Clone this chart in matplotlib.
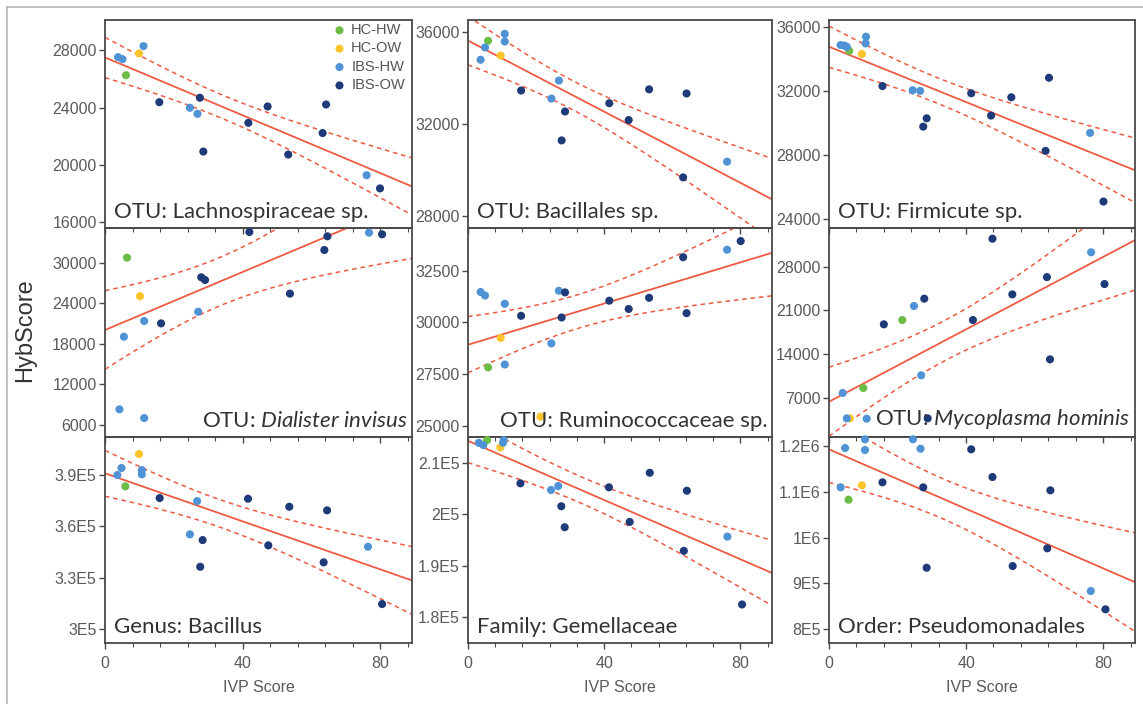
import numpy as np
import matplotlib
matplotlib.use('Agg')
import matplotlib.pyplot as plt
from matplotlib.lines import Line2D

plt.rcParams['font.family'] = ['Liberation Sans', 'DejaVu Sans']
plt.rcParams['mathtext.fontset'] = 'custom'
plt.rcParams['mathtext.rm'] = 'Lato'
plt.rcParams['mathtext.it'] = 'Lato:italic'

groups = ['HC-HW', 'HC-OW', 'IBS-HW', 'IBS-OW']
group_colors = ['#6cbd45', '#fdc42b', '#4f93d6', '#1f3a78']

# panel 1 - Lachnospiraceae
lach_x = [3.8, 5.1, 6.1, 9.9, 11.2, 15.8, 24.7, 26.9, 27.6, 28.6, 41.7, 47.3, 53.3, 63.3, 64.3, 76.1, 80.0]
lach_y = [27510, 27370, 26250, 27770, 28280, 24370, 23980, 23560, 24680, 20930, 22930, 24070, 20720, 22220, 24210, 19280, 18360]
lach_g = [2, 2, 0, 1, 2, 3, 2, 2, 3, 3, 3, 3, 3, 3, 3, 2, 3]

# panel 2 - Bacillales
baci_x = [3.7, 5.0, 5.9, 9.6, 10.8, 10.8, 15.6, 24.5, 26.7, 27.5, 28.5, 41.5, 47.2, 53.2, 63.2, 64.2, 76.1]
baci_y = [34780, 35310, 35600, 34960, 35900, 35570, 33450, 33100, 33880, 31290, 32540, 32900, 32170, 33500, 29690, 33320, 30370]
baci_g = [2, 2, 0, 1, 2, 2, 3, 2, 2, 3, 3, 3, 3, 3, 3, 3, 2]

# panel 3 - Firmicute
firm_x = [3.4, 4.5, 5.2, 5.9, 9.6, 10.8, 10.7, 15.6, 24.4, 26.6, 27.5, 28.5, 41.5, 47.3, 53.2, 64.2, 63.2, 76.2, 80.1]
firm_y = [34860, 34820, 34750, 34500, 34300, 35380, 34960, 32300, 32040, 32000, 29770, 30290, 31850, 30460, 31600, 32820, 28260, 29380, 25100]
firm_g = [2, 2, 2, 0, 1, 2, 2, 3, 2, 2, 3, 3, 3, 3, 3, 3, 3, 2, 3]

# panel 4 - Dialister invisus
dial_x = [6.4, 10.2, 5.5, 11.4, 16.3, 27.1, 28.0, 29.1, 4.2, 11.4, 53.8, 63.8, 64.7, 42.0, 76.8, 80.6]
dial_y = [30740, 25040, 19040, 21360, 21010, 22740, 27840, 27440, 8280, 6990, 25420, 31880, 33910, 34550, 34450, 34200]
dial_g = [0, 1, 2, 2, 3, 2, 3, 3, 2, 2, 3, 3, 3, 3, 2, 3]

# panel 5 - Ruminococcaceae
rumi_x = [3.7, 5.0, 5.9, 9.6, 10.8, 10.8, 15.6, 24.5, 26.7, 28.5, 27.5, 41.5, 47.2, 53.2, 63.2, 64.2, 76.1, 80.1, 21.3]
rumi_y = [31470, 31300, 27830, 29250, 30900, 27970, 30320, 28990, 31530, 31450, 30240, 31050, 30650, 31190, 33150, 30450, 33510, 33930, 25450]
rumi_g = [2, 2, 0, 1, 2, 2, 3, 2, 2, 3, 3, 3, 3, 3, 3, 3, 2, 3, 1]

# panel 6 - Mycoplasma hominis
myco_x = [4.0, 10.0, 16.0, 21.4, 24.8, 27.8, 26.9, 42.0, 47.7, 53.5, 63.6, 64.5, 76.5, 80.4, 5.2, 6.1, 11.0, 28.8]
myco_y = [7800, 8600, 18780, 19470, 21710, 22880, 10630, 19470, 32470, 23570, 26330, 13180, 30290, 25220, 3750, 3750, 3700, 3750]
myco_g = [2, 0, 3, 0, 2, 3, 2, 3, 3, 3, 3, 3, 2, 3, 2, 1, 2, 3]

# panel 7 - Bacillus
bacg_x = [3.6, 4.8, 5.9, 9.9, 10.7, 10.7, 15.9, 24.7, 26.8, 28.4, 27.7, 41.6, 47.5, 53.6, 64.6, 63.6, 76.5, 80.6]
bacg_y = [390000, 394090, 383400, 402250, 392900, 390400, 376580, 355390, 374840, 352060, 336480, 376170, 348970, 371500, 369400, 339050, 348150, 314710]
bacg_g = [2, 2, 0, 1, 2, 2, 3, 2, 2, 3, 3, 3, 3, 3, 3, 3, 2, 3]

# panel 8 - Gemellaceae
geme_x = [3.2, 4.5, 5.6, 9.5, 10.5, 10.3, 15.4, 24.4, 26.5, 27.4, 28.4, 41.4, 47.5, 53.4, 64.3, 63.4, 76.2, 80.5]
geme_y = [213880, 213430, 214400, 212980, 214400, 213880, 206000, 204710, 205480, 201550, 197480, 205230, 198510, 208060, 204570, 192890, 195660, 182480]
geme_g = [2, 2, 0, 1, 2, 2, 3, 2, 2, 3, 3, 3, 3, 3, 3, 3, 2, 3]

# panel 9 - Pseudomonadales
pseu_x = [3.4, 4.7, 5.7, 9.6, 10.5, 10.5, 15.6, 24.5, 26.7, 27.5, 28.5, 41.5, 47.7, 53.6, 63.7, 64.6, 76.4, 80.7]
pseu_y = [1109830, 1195630, 1082750, 1114190, 1191270, 1214630, 1120740, 1214630, 1194100, 1109830, 934280, 1192790, 1132310, 937990, 976640, 1103280, 883410, 843450]
pseu_g = [2, 2, 0, 1, 2, 2, 3, 2, 2, 3, 3, 3, 3, 3, 3, 3, 2, 3]

titles = ['OTU: Lachnospiraceae sp.', 'OTU: Bacillales sp.', 'OTU: Firmicute sp.',
          r'OTU: $\it{Dialister\ invisus}$', 'OTU: Ruminococcaceae sp.', r'OTU: $\it{Mycoplasma\ hominis}$',
          'Genus: Bacillus', 'Family: Gemellaceae', 'Order: Pseudomonadales']
title_right = [False, False, False, True, True, True, False, False, False]

# fitted line (value at IVP 0, slope) and CI half width at left / right edge
fit_icpt = [27490, 35610, 34754, 20030, 28924, 6410, 391000, 214260, 1192800]
fit_slope = [-100.7, -76.9, -86.3, 214.6, 49.7, 289.3, -699.8, -287.4, -3248]
band_left = [1400, 1120, 1300, 5700, 1370, 5300, 13600, 4260, 72900]
band_right = [1990, 1645, 1985, 8730, 2060, 8300, 19435, 6300, 107000]

ylims = [(15600, 30100), (27500, 36500), (23450, 36420),
         (4180, 35140), (24470, 34560), (770, 34180),
         (292000, 412200), (175000, 215000), (770000, 1219700)]
yticks = [[16000, 20000, 24000, 28000], [28000, 32000, 36000], [24000, 28000, 32000, 36000],
          [6000, 12000, 18000, 24000, 30000], [25000, 27500, 30000, 32500], [7000, 14000, 21000, 28000],
          [300000, 330000, 360000, 390000], [180000, 190000, 200000, 210000],
          [800000, 900000, 1000000, 1100000, 1200000]]
ytick_labels = [None, None, None, None, None, None,
                ['3E5', '3.3E5', '3.6E5', '3.9E5'], ['1.8E5', '1.9E5', '2E5', '2.1E5'],
                ['8E5', '9E5', '1E6', '1.1E6', '1.2E6']]

xs_all = [lach_x, baci_x, firm_x, dial_x, rumi_x, myco_x, bacg_x, geme_x, pseu_x]
ys_all = [lach_y, baci_y, firm_y, dial_y, rumi_y, myco_y, bacg_y, geme_y, pseu_y]
gs_all = [lach_g, baci_g, firm_g, dial_g, rumi_g, myco_g, bacg_g, geme_g, pseu_g]

W, H = 1143, 704
fig = plt.figure(figsize=(W / 100, H / 100), dpi=100)

col_left = [105, 468, 829]
col_w = [307, 304, 306]
row_top = [20, 228, 437]
row_h = [208, 209, 206]
XMAX = 89.3
line_col = '#ef5a42'
spine_col = '#4a4a4a'
tick_col = '#5a5a5a'

# outer frame
fig.add_artist(Line2D([7 / W, 7 / W], [0, 1 - 7 / H], color='#b5b5b5', lw=1.2))
fig.add_artist(Line2D([7 / W, 1], [1 - 7 / H, 1 - 7 / H], color='#b5b5b5', lw=1.2))

for i in range(9):
    r, c = divmod(i, 3)
    ax = fig.add_axes([col_left[c] / W, 1 - (row_top[r] + row_h[r]) / H, col_w[c] / W, row_h[r] / H])
    ax.patch.set_alpha(0)
    ax.set_xlim(0, XMAX)
    ax.set_ylim(*ylims[i])
    for sp in ax.spines.values():
        sp.set_color(spine_col)
        sp.set_linewidth(1.3)

    x = np.array(xs_all[i], float)
    y = np.array(ys_all[i], float)
    g = np.array(gs_all[i])

    # regression line and confidence band
    xx = np.linspace(0, XMAX, 200)
    yy = fit_icpt[i] + fit_slope[i] * xx
    n = len(x)
    xm = x.mean()
    sxx = ((x - xm) ** 2).sum()
    shape = lambda v: np.sqrt(1 / n + (v - xm) ** 2 / sxx)
    k = (band_left[i] / shape(0) + band_right[i] / shape(XMAX)) / 2
    hw = k * shape(xx)
    ax.plot(xx, yy, color=line_col, lw=1.3, zorder=2)
    ax.plot(xx, yy + hw, color=line_col, lw=1.1, ls=(0, (3, 2.5)), zorder=2)
    ax.plot(xx, yy - hw, color=line_col, lw=1.1, ls=(0, (3, 2.5)), zorder=2)

    for gi in range(4):
        m = g == gi
        if m.any():
            ax.scatter(x[m], y[m], s=34, color=group_colors[gi], edgecolors='none',
                       zorder=4, clip_on=False, label=groups[gi])

    ax.set_xticks([0, 40, 80])
    ax.set_xticks(np.arange(0, XMAX, 8), minor=True)
    ax.set_yticks(yticks[i])
    if ytick_labels[i] is not None:
        ax.set_yticklabels(ytick_labels[i])
    ax.tick_params(axis='both', which='major', direction='out', length=4, width=1,
                   color=spine_col, labelcolor=tick_col, labelsize=11.5, pad=2)
    ax.tick_params(axis='x', which='major', pad=5)
    ax.tick_params(axis='x', which='minor', direction='out', length=3, width=0.8, color=spine_col)
    if r < 2:
        ax.tick_params(axis='x', which='both', labelbottom=False)
    else:
        ax.set_xlabel('IVP Score', fontsize=11.5, color=tick_col, labelpad=7)

    if title_right[i]:
        ax.text(0.985, 0.03, titles[i], transform=ax.transAxes, ha='right', va='bottom',
                fontsize=16, family='Lato', color='#333333', zorder=5)
    else:
        ax.text(0.03, 0.03, titles[i], transform=ax.transAxes, ha='left', va='bottom',
                fontsize=16, family='Lato', color='#333333', zorder=5)

    if i == 0:
        ax.legend(loc='upper left', bbox_to_anchor=(0.74, 0.985), frameon=False, fontsize=10.5,
                  handletextpad=0.3, labelspacing=0.3, handlelength=1.0, borderaxespad=0,
                  borderpad=0, labelcolor='#555555', markerscale=1.0)

fig.text(25 / W, 1 - 330 / H, 'HybScore', rotation=90, ha='center', va='center',
         fontsize=17, color='#333333')

fig.savefig('out.png', dpi=100)
